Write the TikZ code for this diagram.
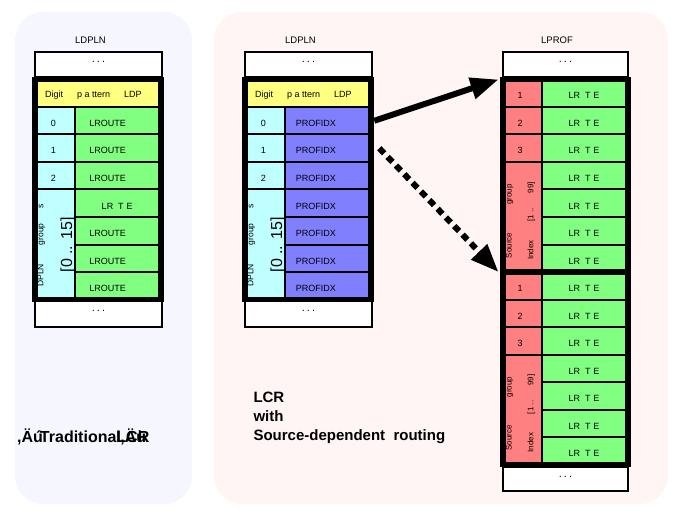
\documentclass[tikz,border=0pt]{standalone}
\usepackage{fontspec}
\setmainfont{Liberation Sans}
\usetikzlibrary{arrows.meta}
\definecolor{hdyellow}{HTML}{FFFF80}
\definecolor{digcyan}{HTML}{BFFFFF}
\definecolor{rtgreen}{HTML}{80FF80}
\definecolor{pfblue}{HTML}{8080FF}
\definecolor{srcred}{HTML}{FF8080}
\definecolor{oldbg}{HTML}{F5F6FF}
\definecolor{newbg}{HTML}{FFF5F5}

\begin{document}
\begin{tikzpicture}[x=1pt, y=-1pt,
  cell/.style={draw, line width=2pt, inner sep=0pt, outer sep=0pt, minimum height=27.5pt,
    text height=11.5pt, text depth=0pt, font=\fontsize{9}{10}\selectfont},
  hdcell/.style={cell, fill=hdyellow, minimum width=122pt, text height=8.5pt},
  digcell/.style={cell, fill=digcyan, minimum width=37.9pt, text width=11pt, align=left},
  routecell/.style={cell, fill=rtgreen, minimum width=84.1pt, text width=56pt, align=left},
  profcell/.style={cell, fill=pfblue, minimum width=84.1pt, text width=63pt, align=left},
  srccell/.style={cell, fill=srcred, minimum width=37.2pt, text width=11pt, align=left},
  lrtcell/.style={cell, fill=rtgreen, minimum width=84.6pt, text width=56pt, align=center},
  endbox/.style={draw, fill=white, line width=2pt, inner sep=0pt, outer sep=0pt,
    minimum width=126.4pt, text height=1.2pt, text depth=5pt, font=\fontsize{11}{11}\selectfont},
  frame/.style={line width=5pt},
  title/.style={font=\fontsize{9.5}{10}\selectfont},
  rottext/.style={rotate=90, anchor=base west, inner sep=0pt, font=\fontsize{8}{8}\selectfont},
  bigarrow/.style={line width=6pt, -{Triangle[length=28pt, width=21pt]}},
  dotarrow/.style={bigarrow, dash pattern=on 7pt off 5pt}]
  \useasboundingbox (0,0) rectangle (677,513);

  % background panels
  \fill[oldbg, rounded corners=28pt] (15,12) rectangle (192,504);
  \fill[newbg, rounded corners=28pt] (214,12) rectangle (668,504);

  % traditional LDPLN
  \node[title] (ltitle) at (90.5,40.7) {LDPLN};
  \node[endbox, minimum height=25.3pt] (ltop) at (98.5,64.35) {.\hspace{2pt}.\hspace{2pt}.};
  \node[endbox, minimum height=26.7pt] (lbot) at (98.5,313.35) {.\hspace{2pt}.\hspace{2pt}.};
  \node[hdcell] (lhd) at (98.3,93.25) {Digit\hspace{14pt}p a ttern\hspace{14pt}LDP\hspace*{10pt}};
  \foreach \i/\d in {1/0, 2/1, 3/2}
    \node[digcell] (ld\i) at (56.25,{93.25+27.5*\i}) {\d};
  \node[digcell, minimum height=110pt] (ldgrp) at (56.25,244.5) {};
  \foreach \i in {1,2,3,5,6,7}
    \node[routecell] (lr\i) at (117.25,{93.25+27.5*\i}) {LROUTE};
  \node[routecell, align=center] (lr4) at (117.25,203.25) {LR\hspace{5pt}T\hspace{3pt}E};
  \node[rottext, font=\fontsize{8.5}{8.5}\selectfont] (lgrptxt) at (43.3,287) {DPLN\hspace{19pt}group\hspace{15pt}s};
  \node[rottext, font=\fontsize{16}{16}\selectfont] (lgrprng) at (72,272.5) {[0 .. 15]};
  \draw[frame] ([xshift=-2.5pt]lhd.north west) rectangle ([xshift=2.5pt]lr7.south east);

  % LDPLN with profile index
  \node[title] (mtitle) at (300.5,40.7) {LDPLN};
  \node[endbox, minimum height=25.3pt] (mtop) at (308.5,64.35) {.\hspace{2pt}.\hspace{2pt}.};
  \node[endbox, minimum height=26.7pt] (mbot) at (308.5,313.35) {.\hspace{2pt}.\hspace{2pt}.};
  \node[hdcell] (mhd) at (308.3,93.25) {Digit\hspace{14pt}p a ttern\hspace{14pt}LDP\hspace*{10pt}};
  \foreach \i/\d in {1/0, 2/1, 3/2}
    \node[digcell] (md\i) at (266.25,{93.25+27.5*\i}) {\d};
  \node[digcell, minimum height=110pt] (mdgrp) at (266.25,244.5) {};
  \foreach \i in {1,...,7}
    \node[profcell] (mp\i) at (327.25,{93.25+27.5*\i}) {PROFIDX};
  \node[rottext, font=\fontsize{8.5}{8.5}\selectfont] (mgrptxt) at (253.3,287) {DPLN\hspace{19pt}group\hspace{15pt}s};
  \node[rottext, font=\fontsize{16}{16}\selectfont] (mgrprng) at (282,272.5) {[0 .. 15]};
  \draw[frame] ([xshift=-2.5pt]mhd.north west) rectangle ([xshift=2.5pt]mp7.south east);

  % LPROF
  \node[title] (ptitle) at (557,40.7) {LPROF};
  \node[endbox, minimum width=125.6pt, minimum height=25.3pt] (ptop) at (565.5,64.35) {.\hspace{2pt}.\hspace{2pt}.};
  \node[endbox, minimum width=125.6pt, minimum height=24.8pt] (pbot) at (565.5,478.9) {.\hspace{2pt}.\hspace{2pt}.};
  \foreach \i/\d in {0/1, 1/2, 2/3, 7/1, 8/2, 9/3}
    \node[srccell] (ps\i) at (523.1,{93.25+27.5*\i}) {\d};
  \node[srccell, minimum height=110pt] (psgrpa) at (523.1,217) {};
  \node[srccell, minimum height=110pt] (psgrpb) at (523.1,409.5) {};
  \foreach \i in {0,...,13}
    \node[lrtcell] (pg\i) at (584,{93.25+27.5*\i}) {LR\hspace{5pt}T\hspace{3pt}E};
  \node[rottext] (psrca) at (511.5,258.3) {Source\hspace{28pt}group};
  \node[rottext] (pidxa) at (533.3,260) {Index\hspace{18.7pt}[1 ..\hspace{15pt}99]};
  \node[rottext] (psrcb) at (511.5,450.8) {Source\hspace{28pt}group};
  \node[rottext] (pidxb) at (533.3,452.5) {Index\hspace{18.7pt}[1 ..\hspace{15pt}99]};
  \draw[frame] ([xshift=-2.5pt]ps0.north west) rectangle ([xshift=2.5pt]pg13.south east);
  \draw[line width=6pt] ([xshift=-5pt]ps7.north west) -- ([xshift=5pt]pg7.north east);

  \draw[bigarrow] ([xshift=5pt]mp1.east) -- ([xshift=-6pt]ps0.north west);
  \draw[dotarrow] ([xshift=10pt]mp2.east) -- ([xshift=-6pt]ps7.north west);

  \node[anchor=base west, inner sep=0pt, font=\bfseries\fontsize{16}{19}\selectfont] (tradnote)
    at (17,442) {,Äú\hspace{-3pt}Traditiona\rlap{l}\rlap{\hspace{4pt},Äù}LCR};
  \node[anchor=north west, inner sep=0pt, align=left, font=\bfseries\fontsize{15}{19}\selectfont] (lcrnote)
    at (253.3,392) {LCR\\with\\Source-dependent\ \ routing};
\end{tikzpicture}
\end{document}
